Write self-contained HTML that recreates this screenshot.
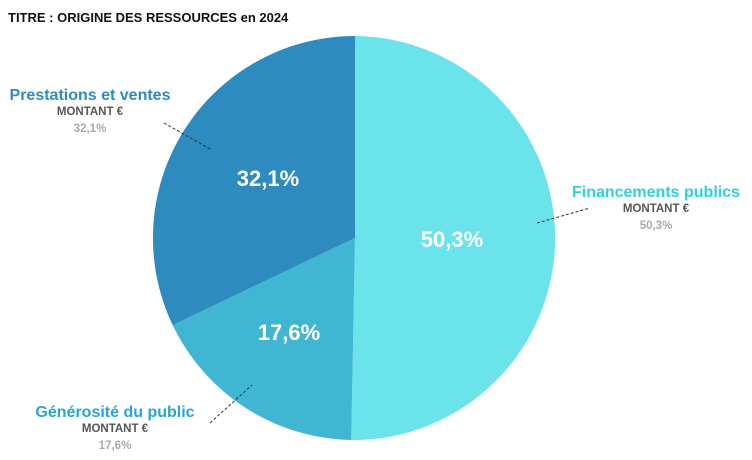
<!DOCTYPE html>
<html><head><meta charset="utf-8"><style>
html,body{margin:0;padding:0;background:#fff;}
svg{display:block;font-family:"Liberation Sans",sans-serif;font-weight:bold;}
</style></head><body>
<svg width="752" height="460" viewBox="0 0 752 460" xmlns="http://www.w3.org/2000/svg">
<text x="8" y="22" font-size="13" fill="#111">TITRE : ORIGINE DES RESSOURCES  en 2024</text>
<path d="M355,238 L355,36 A202,202 0 1 1 351.2,440 Z" fill="#6ae4ea"/>
<path d="M355,238 L351.2,440 A202,202 0 0 1 172.7,325.1 Z" fill="#41b6d3"/>
<path d="M355,238 L172.7,325.1 A202,202 0 0 1 355,36 Z" fill="#2e8bbf"/>
<g font-size="22" fill="#fff" text-anchor="middle">
<text x="268" y="186">32,1%</text>
<text x="452" y="247">50,3%</text>
<text x="289" y="340">17,6%</text>
</g>
<g stroke="#333" stroke-width="1" stroke-dasharray="3,2">
<line x1="164" y1="123" x2="212" y2="150"/>
<line x1="537" y1="223" x2="590" y2="208"/>
<line x1="210" y1="423" x2="252" y2="385"/>
</g>
<g text-anchor="middle">
<text x="90" y="100" font-size="16" fill="#2e8bbf">Prestations et ventes</text>
<text x="90" y="115" font-size="11.5" fill="#555">MONTANT €</text>
<text x="90" y="132" font-size="11.5" fill="#aaa">32,1%</text>
<text x="656" y="197" font-size="16" fill="#2dd0dc">Financements publics</text>
<text x="656" y="212" font-size="11.5" fill="#555">MONTANT €</text>
<text x="656" y="229" font-size="11.5" fill="#aaa">50,3%</text>
<text x="115" y="417" font-size="16" fill="#2aa6cc">Générosité du public</text>
<text x="115" y="432" font-size="11.5" fill="#555">MONTANT €</text>
<text x="115" y="449" font-size="11.5" fill="#aaa">17,6%</text>
</g>
</svg>
</body></html>
